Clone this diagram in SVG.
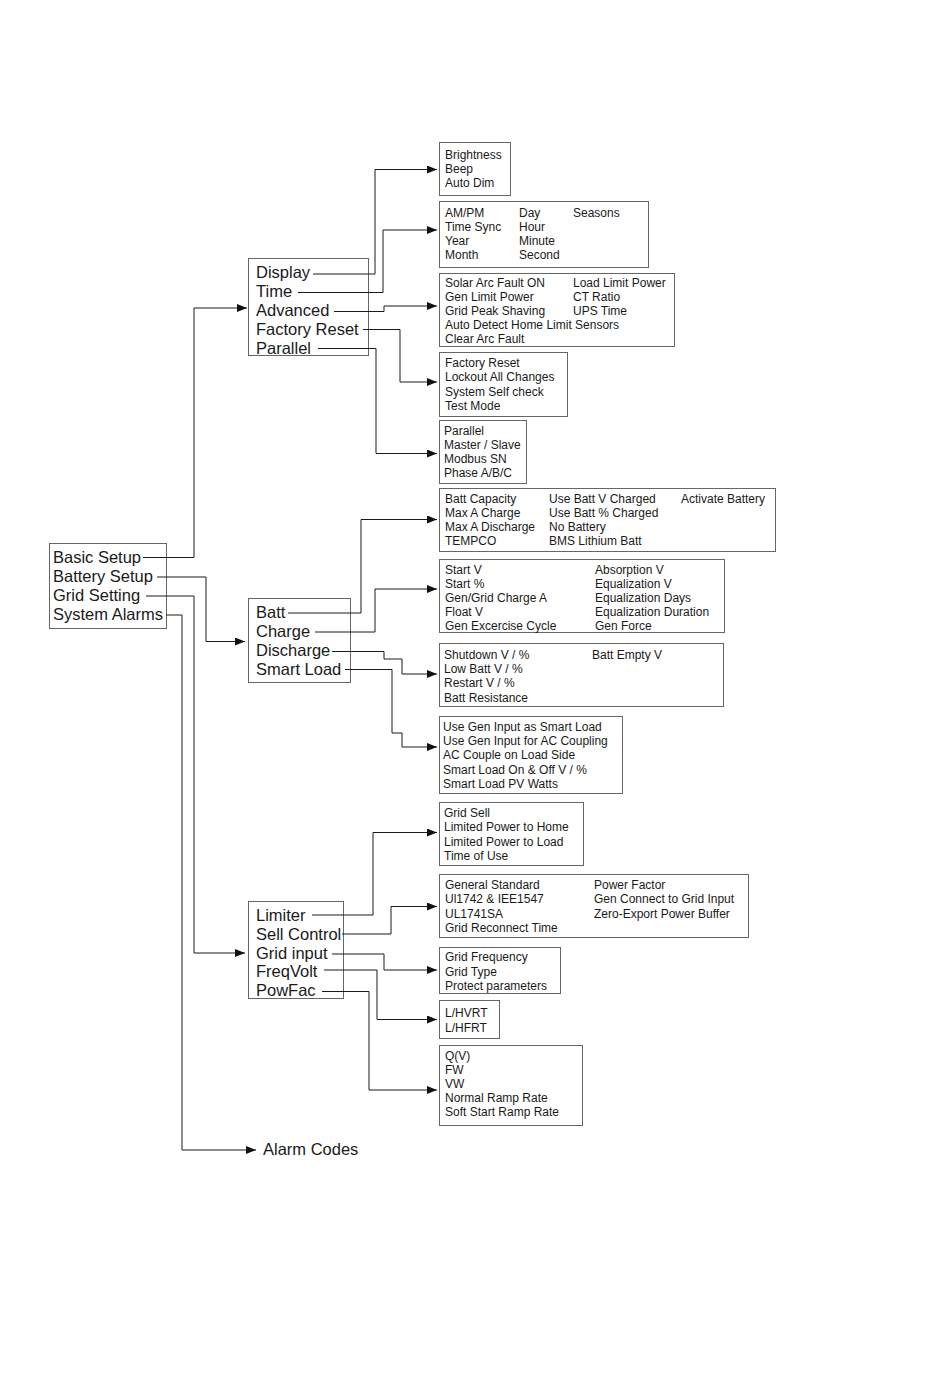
<svg xmlns="http://www.w3.org/2000/svg" width="950" height="1378" viewBox="0 0 950 1378">
<defs>
<marker id="arr" markerUnits="userSpaceOnUse" markerWidth="10" markerHeight="8" refX="10" refY="4" orient="auto">
<path d="M0,0 L10,4 L0,8 z" fill="#111"/>
</marker>
<style>
.box{fill:none;stroke:#666;stroke-width:1}
.big{font-family:"Liberation Sans",Arial,sans-serif;font-size:16.5px;fill:#1a1a1a}
.sm{font-family:"Liberation Sans",Arial,sans-serif;font-size:12px;fill:#1a1a1a}
.c{fill:none;stroke:#1a1a1a;stroke-width:1}
.a{marker-end:url(#arr)}
</style>
</defs>
<rect width="950" height="1378" fill="#fff"/>

<g id="main">
<rect class="box" x="49.5" y="543.5" width="117" height="85"/>
<text class="big" x="53" y="563">Basic Setup</text>
<text class="big" x="53" y="582">Battery Setup</text>
<text class="big" x="53" y="601">Grid Setting</text>
<text class="big" x="53" y="620">System Alarms</text>
</g>

<g id="basic-setup">
<rect class="box" x="248.5" y="258.5" width="120" height="97"/>
<text class="big" x="256" y="278">Display</text>
<text class="big" x="256" y="297">Time</text>
<text class="big" x="256" y="316">Advanced</text>
<text class="big" x="256" y="335">Factory Reset</text>
<text class="big" x="256" y="353.5">Parallel</text>
</g>

<g id="battery-setup">
<rect class="box" x="248.5" y="598.5" width="102" height="84"/>
<text class="big" x="256" y="618">Batt</text>
<text class="big" x="256" y="637">Charge</text>
<text class="big" x="256" y="656">Discharge</text>
<text class="big" x="256" y="675">Smart Load</text>
</g>

<g id="grid-setting">
<rect class="box" x="248.5" y="901.5" width="95" height="97"/>
<text class="big" x="256" y="920.5">Limiter</text>
<text class="big" x="256" y="939.5">Sell Control</text>
<text class="big" x="256" y="958.5">Grid input</text>
<text class="big" x="256" y="977">FreqVolt</text>
<text class="big" x="256" y="996">PowFac</text>
</g>

<g id="alarm-codes">
<text class="big" x="263" y="1155">Alarm Codes</text>
</g>

<g id="display">
<rect class="box" x="439.5" y="142.5" width="71" height="53"/>
<text class="sm" x="445" y="159">Brightness</text>
<text class="sm" x="445" y="173">Beep</text>
<text class="sm" x="445" y="187">Auto Dim</text>
</g>

<g id="time">
<rect class="box" x="439.5" y="201.5" width="209" height="66"/>
<text class="sm" x="445" y="217">AM/PM</text>
<text class="sm" x="445" y="231">Time Sync</text>
<text class="sm" x="445" y="245">Year</text>
<text class="sm" x="445" y="259">Month</text>
<text class="sm" x="519" y="217">Day</text>
<text class="sm" x="519" y="231">Hour</text>
<text class="sm" x="519" y="245">Minute</text>
<text class="sm" x="519" y="259">Second</text>
<text class="sm" x="573" y="217">Seasons</text>
</g>

<g id="advanced">
<rect class="box" x="439.5" y="273.5" width="235" height="73"/>
<text class="sm" x="445" y="286.5">Solar Arc Fault ON</text>
<text class="sm" x="445" y="300.5">Gen Limit Power</text>
<text class="sm" x="445" y="315">Grid Peak Shaving</text>
<text class="sm" x="445" y="329">Auto Detect Home Limit Sensors</text>
<text class="sm" x="445" y="343">Clear Arc Fault</text>
<text class="sm" x="573" y="286.5">Load Limit Power</text>
<text class="sm" x="573" y="300.5">CT Ratio</text>
<text class="sm" x="573" y="315">UPS Time</text>
</g>

<g id="factory-reset">
<rect class="box" x="439.5" y="352.5" width="128" height="64"/>
<text class="sm" x="445" y="367">Factory Reset</text>
<text class="sm" x="445" y="381">Lockout All Changes</text>
<text class="sm" x="445" y="395.5">System Self check</text>
<text class="sm" x="445" y="409.5">Test Mode</text>
</g>

<g id="parallel">
<rect class="box" x="439.5" y="420.5" width="87" height="63"/>
<text class="sm" x="444" y="435">Parallel</text>
<text class="sm" x="444" y="449">Master / Slave</text>
<text class="sm" x="444" y="463">Modbus SN</text>
<text class="sm" x="444" y="477">Phase A/B/C</text>
</g>

<g id="batt">
<rect class="box" x="439.5" y="488.5" width="336" height="63"/>
<text class="sm" x="445" y="503">Batt Capacity</text>
<text class="sm" x="445" y="517">Max A Charge</text>
<text class="sm" x="445" y="531">Max A Discharge</text>
<text class="sm" x="445" y="545">TEMPCO</text>
<text class="sm" x="549" y="503">Use Batt V Charged</text>
<text class="sm" x="549" y="517">Use Batt % Charged</text>
<text class="sm" x="549" y="531">No Battery</text>
<text class="sm" x="549" y="545">BMS Lithium Batt</text>
<text class="sm" x="681" y="503">Activate Battery</text>
</g>

<g id="charge">
<rect class="box" x="439.5" y="559.5" width="285" height="73"/>
<text class="sm" x="445" y="573.5">Start V</text>
<text class="sm" x="445" y="587.5">Start %</text>
<text class="sm" x="445" y="602">Gen/Grid Charge A</text>
<text class="sm" x="445" y="616">Float V</text>
<text class="sm" x="445" y="630">Gen Excercise Cycle</text>
<text class="sm" x="595" y="573.5">Absorption V</text>
<text class="sm" x="595" y="587.5">Equalization V</text>
<text class="sm" x="595" y="602">Equalization Days</text>
<text class="sm" x="595" y="616">Equalization Duration</text>
<text class="sm" x="595" y="630">Gen Force</text>
</g>

<g id="discharge">
<rect class="box" x="439.5" y="643.5" width="284" height="63"/>
<text class="sm" x="444" y="658.5">Shutdown V / %</text>
<text class="sm" x="444" y="673">Low Batt V / %</text>
<text class="sm" x="444" y="687">Restart V / %</text>
<text class="sm" x="444" y="701.5">Batt Resistance</text>
<text class="sm" x="592" y="658.5">Batt Empty V</text>
</g>

<g id="smart-load">
<rect class="box" x="439.5" y="716.5" width="183" height="77"/>
<text class="sm" x="443" y="731">Use Gen Input as Smart Load</text>
<text class="sm" x="443" y="745">Use Gen Input for AC Coupling</text>
<text class="sm" x="443" y="759">AC Couple on Load Side</text>
<text class="sm" x="443" y="773.5">Smart Load On &amp; Off V / %</text>
<text class="sm" x="443" y="788">Smart Load PV Watts</text>
</g>

<g id="limiter">
<rect class="box" x="439.5" y="802.5" width="144" height="63"/>
<text class="sm" x="444" y="817">Grid Sell</text>
<text class="sm" x="444" y="831">Limited Power to Home</text>
<text class="sm" x="444" y="845.5">Limited Power to Load</text>
<text class="sm" x="444" y="860">Time of Use</text>
</g>

<g id="sell-control">
<rect class="box" x="439.5" y="874.5" width="309" height="63"/>
<text class="sm" x="445" y="889">General Standard</text>
<text class="sm" x="445" y="903">Ul1742 &amp; IEE1547</text>
<text class="sm" x="445" y="917.5">UL1741SA</text>
<text class="sm" x="445" y="932">Grid Reconnect Time</text>
<text class="sm" x="594" y="889">Power Factor</text>
<text class="sm" x="594" y="903">Gen Connect to Grid Input</text>
<text class="sm" x="594" y="917.5">Zero-Export Power Buffer</text>
</g>

<g id="grid-input">
<rect class="box" x="439.5" y="947.5" width="121" height="46"/>
<text class="sm" x="445" y="961">Grid Frequency</text>
<text class="sm" x="445" y="975.5">Grid Type</text>
<text class="sm" x="445" y="990">Protect parameters</text>
</g>

<g id="freqvolt">
<rect class="box" x="439.5" y="1000.5" width="60" height="38"/>
<text class="sm" x="445" y="1017">L/HVRT</text>
<text class="sm" x="445" y="1031.5">L/HFRT</text>
</g>

<g id="powfac">
<rect class="box" x="439.5" y="1045.5" width="143" height="80"/>
<text class="sm" x="445" y="1060">Q(V)</text>
<text class="sm" x="445" y="1074">FW</text>
<text class="sm" x="445" y="1088">VW</text>
<text class="sm" x="445" y="1102">Normal Ramp Rate</text>
<text class="sm" x="445" y="1116">Soft Start Ramp Rate</text>
</g>

<g id="connectors">
<polyline class="c a" points="143,557.5 194,557.5 194,308 247,308"/>
<polyline class="c a" points="157,577 206,577 206,641.5 245,641.5"/>
<polyline class="c a" points="146,596 194,596 194,953 245,953"/>
<polyline class="c a" points="166,615 182,615 182,1150 256,1150"/>

<polyline class="c a" points="313,274 375,274 375,169.5 437,169.5"/>
<polyline class="c a" points="298,292.5 383,292.5 383,230 437,230"/>
<polyline class="c a" points="334,311.5 384,311.5 384,306 437,306"/>
<polyline class="c a" points="363,329.5 400,329.5 400,382 437,382"/>
<polyline class="c a" points="318,348.5 376,348.5 376,453.5 437,453.5"/>

<polyline class="c a" points="288,613 361,613 361,519.5 437,519.5"/>
<polyline class="c a" points="315,632 375,632 375,589 437,589"/>
<polyline class="c a" points="332,651.5 384,651.5 384,659 402,659 402,674 437,674"/>
<polyline class="c a" points="345,669.5 392,669.5 392,733 402,733 402,747 437,747"/>

<polyline class="c a" points="312,915 373,915 373,832.5 437,832.5"/>
<polyline class="c a" points="342,934 391,934 391,906.5 437,906.5"/>
<polyline class="c a" points="332,954 384,954 384,970 437,970"/>
<polyline class="c a" points="324,970 377,970 377,1019.5 437,1019.5"/>
<polyline class="c a" points="322,991.5 369,991.5 369,1090 437,1090"/>
</g>
</svg>
